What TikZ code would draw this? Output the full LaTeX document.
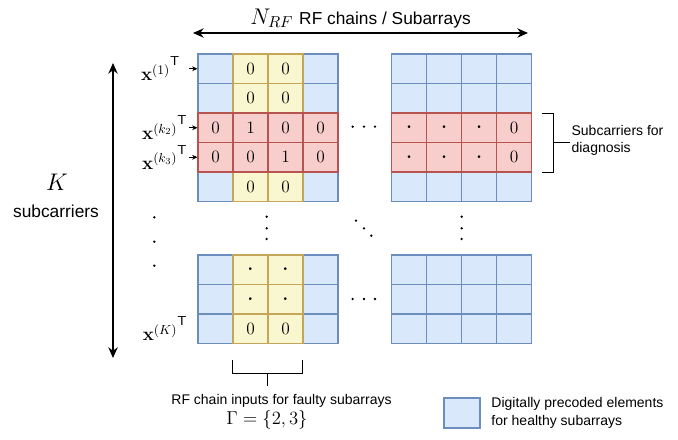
\documentclass[tikz,border=0pt]{standalone}
\usepackage{fix-cm}
\usepackage{amsmath}
\usepackage[no-math]{fontspec}
\newfontfamily\sffont{Liberation Sans}
\usetikzlibrary{arrows.meta,positioning,calc}
\definecolor{hfill}{HTML}{DAE8FC}
\definecolor{hdraw}{HTML}{6C8EBF}
\definecolor{ffill}{HTML}{F9F7CF}
\definecolor{fdraw}{HTML}{C4A55A}
\definecolor{dfill}{HTML}{F8CECC}
\definecolor{ddraw}{HTML}{B85450}
\tikzset{
  cell/.style={draw,line width=0.8pt,inner sep=0pt,minimum width=26.25pt,
    minimum height=22.1pt,font=\fontsize{13}{15}\selectfont},
  healthy/.style={cell,fill=hfill,draw=hdraw},
  faulty/.style={cell,fill=ffill,draw=fdraw},
  diag/.style={cell,fill=dfill,draw=ddraw},
  xlbl/.style={font=\fontsize{14}{16}\selectfont,inner sep=1pt},
  lbl/.style={font=\sffont\fontsize{10.5}{13}\selectfont,align=left,inner sep=1pt},
  ptr/.style={-{Stealth[length=4pt,width=3.6pt]},line width=0.7pt},
  bigarrow/.style={{Stealth[length=8pt,width=7pt]}-{Stealth[length=8pt,width=7pt]},line width=1.1pt},
  brace/.style={line width=0.75pt}
}
\newcommand{\dotat}[2]{\fill (#1,#2) circle (0.95pt);}
\newcommand{\tp}{^{\raisebox{2.5pt}{$\scriptstyle\mathsf{T}$}}}
\newcommand{\bdot}{\boldsymbol{\cdot}}

\begin{document}
\begin{tikzpicture}[x=0.75pt,y=-0.75pt]
  \useasboundingbox (0,0) rectangle (678,439);

  % all blocks, healthy first
  \foreach \blk/\xo/\yo/\nr in {TL/198/54/5,TR/391.7/54/5,BL/198/255/3,BR/391.7/255/3}
    \foreach \r in {1,...,\nr}
      \foreach \c in {1,...,4}
        \node[healthy] (\blk-\r-\c) at ({\xo+35*(\c-0.5)},{\yo+29.5*(\r-0.5)}) {};

  % faulty subarray columns
  \foreach \blk/\r/\t in {TL/1/0,TL/2/0,TL/5/0,BL/1/\bdot,BL/2/\bdot,BL/3/0}
    \foreach \c in {2,3}
      \node[faulty] (\blk-\r-\c) at (\blk-\r-\c) {$\t$};

  % subcarriers for diagnosis
  \foreach \r/\vals in {3/{0,1,0,0},4/{0,0,1,0}}
    \foreach \t [count=\c] in \vals
      \node[diag] (TL-\r-\c) at (TL-\r-\c) {$\t$};
  \foreach \r in {3,4}
    \foreach \t [count=\c] in {\bdot,\bdot,\bdot,0}
      \node[diag] (TR-\r-\c) at (TR-\r-\c) {$\t$};

  % row labels
  \node[xlbl,left=12pt of TL-1-1] (x1) {${\mathbf{x}^{(1)}}\tp$};
  \node[xlbl,left=6.5pt of TL-3-1] (xk2) {${\mathbf{x}^{(k_2)}}\tp$};
  \node[xlbl,left=6.5pt of TL-4-1] (xk3) {${\mathbf{x}^{(k_3)}}\tp$};
  \node[xlbl,left=6.5pt of BL-3-1] (xK) {${\mathbf{x}^{(K)}}\tp$};
  \draw[ptr,shorten <=5.5pt] (x1) -- (TL-1-1);
  \draw[ptr] (xk2) -- (TL-3-1);
  \draw[ptr] (xk3) -- (TL-4-1);

  % axes
  \coordinate (hl) at (193,33);
  \coordinate (hr) at (528,33);
  \draw[bigarrow] (hl) -- (hr)
    node[midway,above=0pt] (nrf) {{\fontsize{17}{20}\selectfont$N_{RF}$}\;\,%
      {\sffont\fontsize{13}{15}\selectfont RF chains / Subarrays}};
  \coordinate (vt) at (113,63);
  \coordinate (vb) at (113,358);
  \draw[bigarrow] (vt) -- (vb);
  \node[font=\fontsize{18}{20}\selectfont] (K) at (57,182) {$K$};
  \node[font=\sffont\fontsize{13}{15}\selectfont] (sub) at (56,211) {subcarriers};

  % dots
  \foreach \y in {217.3,241.7,265.7} {\dotat{154.3}{\y}}
  \foreach \y in {216.7,228.3,239} {\dotat{266.7}{\y} \dotat{461.7}{\y}}
  \dotat{356}{220.7} \dotat{364}{228.3} \dotat{371.3}{235.7}
  \foreach \x in {352.7,364,375} {\dotat{\x}{126.7} \dotat{\x}{299}}

  % brackets
  \draw[brace] (541.7,113) -- (553,113) -- (553,172) -- (541.7,172);
  \coordinate (dstem) at (553,142.5);
  \node[lbl,anchor=west] (diagtxt) at (570,140.3) {Subcarriers for\\diagnosis};
  \draw[brace] (dstem) -- (dstem -| diagtxt.west);

  \draw[brace] (232.5,360) -- (232.5,373) -- (302,373) -- (302,360);
  \coordinate (fstem) at (267,373);
  \draw[brace] (fstem) -- ++(0,13);
  \node[lbl] (faultytxt) at (281.5,401) {RF chain inputs for faulty subarrays};
  \node[font=\fontsize{14}{16}\selectfont,inner sep=0pt] (gamma) at (267,420) {$\Gamma=\{2,3\}$};

  % legend
  \node[healthy,minimum width=27pt,minimum height=22.5pt] (leg) at (462,413) {};
  \node[lbl,right=7pt of leg] (legtxt) {Digitally precoded elements\\for healthy subarrays};
\end{tikzpicture}
\end{document}
